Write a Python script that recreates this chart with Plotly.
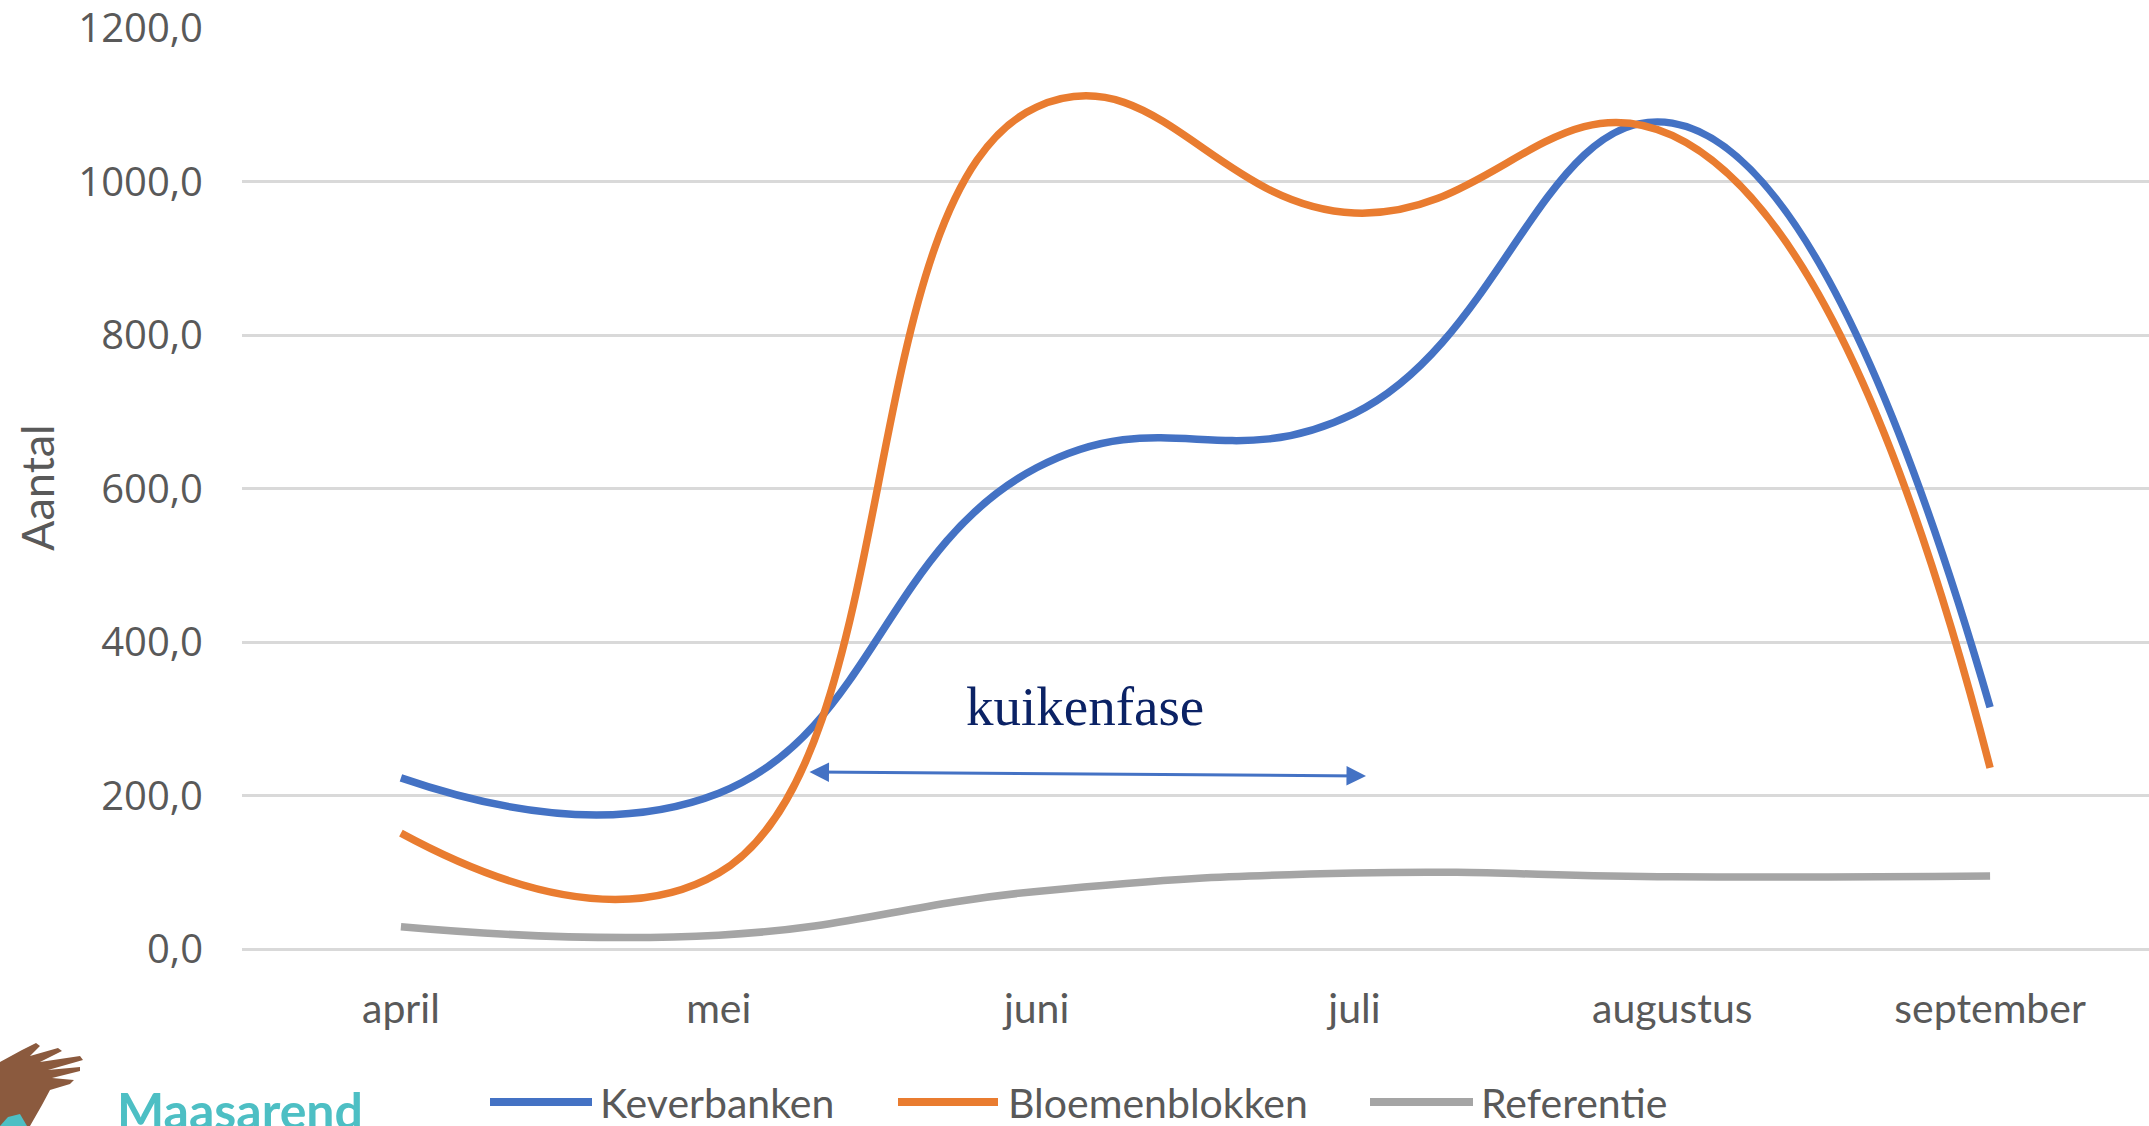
import plotly.graph_objects as go

# ---- data ----
maanden = ["april", "mei", "juni", "juli", "augustus", "september"]
keverbanken = [223, 203, 627, 698, 1076, 315]
bloemenblokken = [151, 99, 1097, 959, 1060, 236]
referentie = [29, 18, 75, 99, 94, 95]

y_ticks = [0, 200, 400, 600, 800, 1000, 1200]

series = [
    ("Keverbanken", keverbanken, "#4472C4"),
    ("Bloemenblokken", bloemenblokken, "#E97C30"),
    ("Referentie", referentie, "#A5A5A5"),
]

# ---- page geometry (pixels) ----
FIG_W, FIG_H = 2149, 1126
PL, PR, PT, PB = 242, 2149, 28, 949
W, H = PR - PL, PB - PT


def px(x):
    return (x - PL) / W


def py(y):
    return (PB - y) / H


TEXT_GREY = "#595959"

fig = go.Figure()
for name, vals, col in series:
    fig.add_trace(go.Scatter(
        x=maanden, y=vals, name=name, mode="lines",
        line=dict(color=col, width=7.5, shape="spline", smoothing=1.3),
        showlegend=False,
    ))

fig.update_layout(
    width=FIG_W, height=FIG_H, autosize=False,
    margin=dict(l=PL, r=FIG_W - PR, t=PT, b=FIG_H - PB, pad=0),
    paper_bgcolor="white", plot_bgcolor="white",
    separators=",.",
    xaxis=dict(
        type="category", range=[-0.5, 5.5],
        showgrid=False, zeroline=False, showline=False, ticks="",
        tickfont=dict(family="Lato", size=41, color=TEXT_GREY),
        ticklabelstandoff=32,
    ),
    yaxis=dict(
        range=[0, 1200], tickvals=y_ticks, tickformat=".1f",
        showgrid=True, gridcolor="#D9D9D9", gridwidth=2.5,
        zeroline=True, zerolinecolor="#D9D9D9", zerolinewidth=2.5,
        showline=False, ticks="",
        tickfont=dict(family="Open Sans", size=40, color=TEXT_GREY),
        ticklabelstandoff=38, ticklabeloverflow="allow",
    ),
)

annotations = []
shapes = []

# y-axis title
annotations.append(dict(
    xref="paper", yref="paper", x=px(37), y=py(488),
    text="Aantal", showarrow=False, textangle=-90,
    xanchor="center", yanchor="middle",
    font=dict(family="Lato", size=45, color=TEXT_GREY),
))

# chick-phase label and double arrow
annotations.append(dict(
    xref="paper", yref="paper", x=px(1085), y=py(706),
    text="kuikenfase", showarrow=False,
    xanchor="center", yanchor="middle",
    font=dict(family="Liberation Serif", size=55, color="#0B2265"),
))
annotations.append(dict(
    xref="paper", yref="paper", x=px(1366), y=py(776),
    ax=808 - 1366, ay=772 - 776, axref="pixel", ayref="pixel",
    text="", showarrow=True, arrowhead=2, arrowside="end+start",
    arrowsize=1.3, arrowwidth=3, arrowcolor="#4472C4", standoff=0, startstandoff=0,
))

# legend drawn below the plot
legend_items = [
    ("Keverbanken", "#4472C4", 490, 592, 599),
    ("Bloemenblokken", "#E97C30", 898, 998, 1007),
    ("Referentie", "#A5A5A5", 1370, 1473, 1480),
]
LEG_Y = 1102
for label, col, x0, x1, xt in legend_items:
    shapes.append(dict(
        type="line", xref="paper", yref="paper",
        x0=px(x0), x1=px(x1), y0=py(LEG_Y), y1=py(LEG_Y),
        line=dict(color=col, width=8),
    ))
    annotations.append(dict(
        xref="paper", yref="paper", x=px(xt), y=py(LEG_Y),
        text=label, showarrow=False, xanchor="left", yanchor="middle",
        height=40, borderpad=0,
        font=dict(family="Lato", size=41, color=TEXT_GREY),
    ))

# Maasarend logo: wing and wordmark
wing = [
    (0, 1062), (22, 1050), (36, 1043), (40, 1046), (30, 1056),
    (58, 1048), (62, 1051), (40, 1062), (80, 1056), (83, 1060),
    (48, 1070), (80, 1067), (80, 1071), (52, 1078), (74, 1080),
    (70, 1084), (50, 1090), (42, 1105), (30, 1126), (0, 1126),
]
path = "M " + " L ".join(f"{px(x):.5f},{py(y):.5f}" for x, y in wing) + " Z"
shapes.append(dict(type="path", xref="paper", yref="paper", path=path,
                   fillcolor="#8B5A3E", line=dict(width=0), layer="above"))
teal = [(0, 1126), (8, 1117), (20, 1114), (27, 1126)]
path = "M " + " L ".join(f"{px(x):.5f},{py(y):.5f}" for x, y in teal) + " Z"
shapes.append(dict(type="path", xref="paper", yref="paper", path=path,
                   fillcolor="#4DBFC4", line=dict(width=0), layer="above"))
annotations.append(dict(
    xref="paper", yref="paper", x=px(115), y=py(1110),
    text="<b>Maasarend</b>", showarrow=False, xanchor="left", yanchor="middle",
    font=dict(family="Lato", size=50, color="#4DBFC4"),
))

fig.update_layout(annotations=annotations, shapes=shapes)
fig.write_html("out.html")
